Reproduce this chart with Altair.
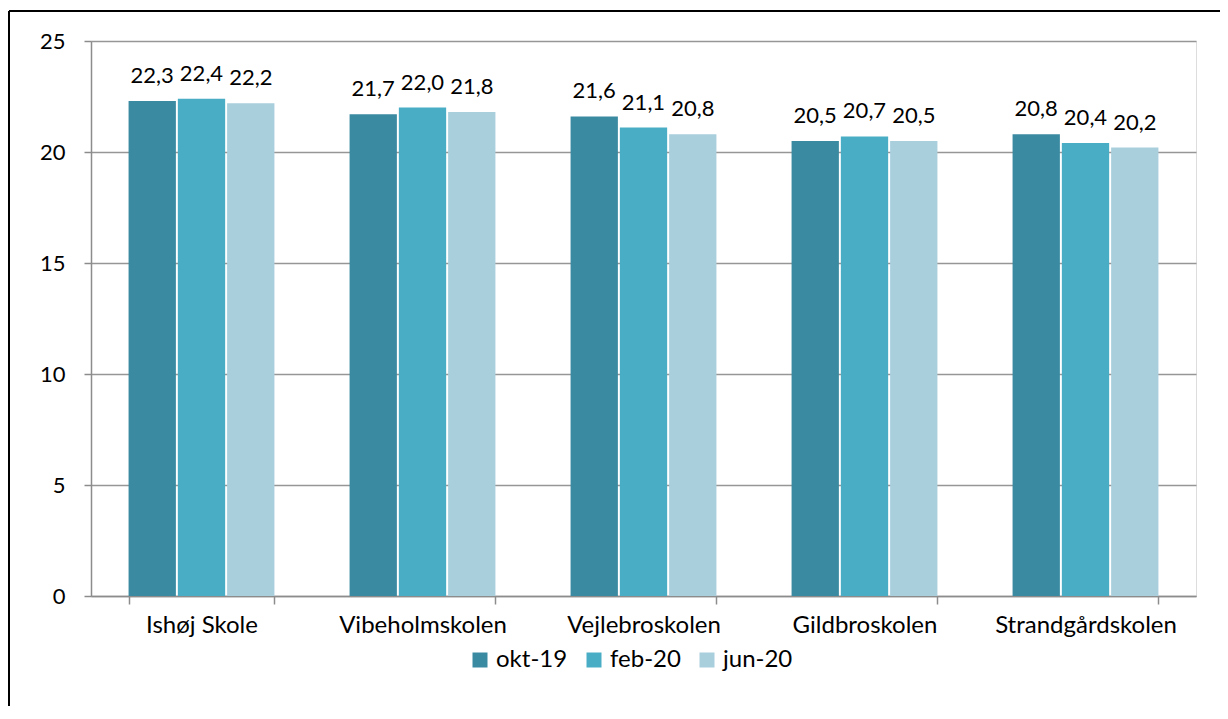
import altair as alt
import pandas as pd

schools = ["Ishøj Skole", "Vibeholmskolen", "Vejlebroskolen", "Gildbroskolen", "Strandgårdskolen"]
periods = ["okt-19", "feb-20", "jun-20"]
okt19 = [22.3, 21.7, 21.6, 20.5, 20.8]
feb20 = [22.4, 22.0, 21.1, 20.7, 20.4]
jun20 = [22.2, 21.8, 20.8, 20.5, 20.2]
colors = ["#3A8AA2", "#4AADC6", "#A9CFDD"]

rows = []
for p, vals in zip(periods, [okt19, feb20, jun20]):
    for s, v in zip(schools, vals):
        rows.append({"skole": s, "periode": p, "værdi": v})
df = pd.DataFrame(rows)

FONT = "Lato"
yscale = alt.Scale(domain=[0, 25], nice=False, zero=True)

x = alt.X("skole:N", sort=schools, title=None,
          scale=alt.Scale(paddingInner=0.34, paddingOuter=0.17),
          axis=alt.Axis(labelAngle=0, labelFontSize=24, labelFont=FONT, labelColor="#000000",
                        labelPadding=9, labelLimit=0, tickBand="extent", tickSize=8,
                        tickColor="#8c8c8c", tickWidth=1.5, domainColor="#8c8c8c",
                        domainWidth=1.5, grid=False))
xoff = alt.XOffset("periode:N", sort=periods, scale=alt.Scale(paddingInner=0.04))

bars = alt.Chart(df).mark_bar().encode(
    x=x,
    xOffset=xoff,
    y=alt.Y("værdi:Q", title=None, scale=yscale,
            axis=alt.Axis(values=[0, 5, 10, 15, 20, 25], labelFontSize=22, labelFont=FONT,
                          labelColor="#000000", labelPadding=19, tickSize=7, tickColor="#8c8c8c",
                          tickWidth=1.5, domainColor="#8c8c8c", domainWidth=1.5,
                          gridColor="#969696", gridWidth=1.5)),
    color=alt.Color("periode:N", sort=periods,
                    scale=alt.Scale(domain=periods, range=colors),
                    legend=alt.Legend(title=None, orient="none", direction="horizontal",
                                      legendX=377, legendY=607, symbolType="square",
                                      symbolSize=225, symbolStrokeWidth=0,
                                      labelFontSize=24, labelFont=FONT, labelColor="#000000",
                                      columnPadding=14, labelOffset=4)),
)

labels = alt.Chart(df).transform_calculate(
    lab="replace(format(datum['værdi'], '.1f'), '.', ',')"
).mark_text(baseline="alphabetic", dy=-18, fontSize=22, font=FONT, color="#000000").encode(
    x=alt.X("skole:N", sort=schools),
    xOffset=xoff,
    y=alt.Y("værdi:Q", scale=yscale),
    text="lab:N",
)

frame_df = pd.DataFrame({"k": [0]})
frame_left = alt.Chart(frame_df).mark_rule(color="#000000", strokeWidth=2).encode(
    x=alt.value(-82), y=alt.value(-30), y2=alt.value(700))
frame_top = alt.Chart(frame_df).mark_rule(color="#000000", strokeWidth=2).encode(
    x=alt.value(-82), x2=alt.value(1137), y=alt.value(-30))

chart = alt.layer(bars, labels, frame_left, frame_top).properties(
    width=1105, height=555,
    padding={"left": 83, "top": 33, "right": 24, "bottom": 110},
    autosize=alt.AutoSizeParams(type="none"),
).configure_view(strokeWidth=0, stroke="transparent").configure(font=FONT)

chart.save("out.html", embed_options={"renderer": "svg", "actions": False})
